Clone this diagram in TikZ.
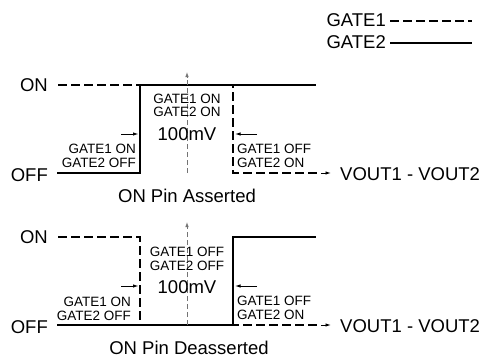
\documentclass[tikz,border=0pt]{standalone}
\usepackage{fontspec}
\setmainfont{Liberation Sans}
\usetikzlibrary{arrows.meta}
\begin{document}
\begin{tikzpicture}[x=1pt,y=-1pt,
  big/.style={font=\fontsize{18.5}{18.5}\selectfont,inner sep=0pt,text=black},
  small/.style={font=\fontsize{13.5}{13.5}\selectfont,inner sep=0pt,text=black},
  gsolid/.style={line width=1.8pt,black},
  gdash/.style={line width=1.8pt,black,dash pattern=on 8.5pt off 4.5pt},
  center/.style={line width=0.8pt,black!55,dash pattern=on 5pt off 3pt,-{Latex[length=5pt,width=3.5pt]}},
  tick/.style={line width=0.9pt,black,-{Latex[length=5.5pt,width=3.5pt]}},
]
\useasboundingbox (0,0) rectangle (483,360);
% legend
\node[big,anchor=east] (lg1) at (386,20) {GATE1};
\node[big,anchor=east] (lg2) at (386,42) {GATE2};
\coordinate (lg1e) at (472,21);
\coordinate (lg2e) at (472,43);
\draw[gdash] (lg1.east |- lg1e) ++(4,0) coordinate (lg1s) -- (lg1e);
\draw[gsolid] (lg2.east |- lg2e) ++(4,0) coordinate (lg2s) -- (lg2e);

% ===== top panel =====
\node[big,anchor=east] (on1) at (48,85) {ON};
\node[big,anchor=east] (off1) at (48,175) {OFF};
\coordinate (t-onL) at (58,85);
\coordinate (t-rise-top) at (140,85);
\coordinate (t-rise-bot) at (140,173);
\coordinate (t-fall-top) at (233,85);
\coordinate (t-fall-bot) at (233,173);
\coordinate (t-onR) at (316,85);
\coordinate (t-offL) at (57,173);
\coordinate (t-offE) at (317,173);
\coordinate (t-tipS) at (321,173);
\coordinate (t-offR) at (331,173);
\coordinate (t-cbot) at (187,173);
\coordinate (t-ctop) at (187,72);
\draw[gdash] (t-onL) -- (t-fall-top) -- (t-fall-bot) -- (t-offE);
\draw[tick] (t-tipS) -- (t-offR);
\draw[gsolid] (t-offL) -- (t-rise-bot) -- (t-rise-top) -- (t-onR);
\draw[center] (t-cbot) -- (t-ctop);
\coordinate (t-la) at (121,134);
\coordinate (t-lb) at (138.5,134);
\coordinate (t-ra) at (257,134);
\coordinate (t-rb) at (235,134);
\draw[tick] (t-la) -- (t-lb);
\draw[tick] (t-ra) -- (t-rb);
\node[small,align=center] (t-mid) at (187,105.5) {GATE1 ON\\GATE2 ON};
\node[big] (t-mv) at (187,134) {100mV};
\node[small,align=right,anchor=east] (t-left) at (136,156) {GATE1 ON\\GATE2 OFF};
\node[small,align=left,anchor=west] (t-right) at (237,156) {GATE1 OFF\\GATE2 ON};
\node[big,anchor=west] (t-vout) at (340,174) {VOUT1 - VOUT2};
\node[big] (t-cap) at (187,196) {ON Pin Asserted};

% ===== bottom panel =====
\node[big,anchor=east] (on2) at (48,237) {ON};
\node[big,anchor=east] (off2) at (48,327) {OFF};
\coordinate (b-onL) at (58,237);
\coordinate (b-fall-top) at (140,237);
\coordinate (b-fall-bot) at (140,325);
\coordinate (b-rise-top) at (233,237);
\coordinate (b-rise-bot) at (233,325);
\coordinate (b-onR) at (316,237);
\coordinate (b-offL) at (57,325);
\coordinate (b-offE) at (317,325);
\coordinate (b-tipS) at (321,325);
\coordinate (b-offR) at (331,325);
\coordinate (b-cbot) at (187,325);
\coordinate (b-ctop) at (187,222);
\draw[gdash] (b-onL) -- (b-fall-top) -- (b-fall-bot) -- (b-offE);
\draw[tick] (b-tipS) -- (b-offR);
\draw[gsolid] (b-offL) -- (b-rise-bot) -- (b-rise-top) -- (b-onR);
\draw[center] (b-cbot) -- (b-ctop);
\coordinate (b-la) at (121,286);
\coordinate (b-lb) at (138.5,286);
\coordinate (b-ra) at (257,286);
\coordinate (b-rb) at (235,286);
\draw[tick] (b-la) -- (b-lb);
\draw[tick] (b-ra) -- (b-rb);
\node[small,align=center] (b-mid) at (187,259) {GATE1 OFF\\GATE2 OFF};
\node[big] (b-mv) at (187,287) {100mV};
\node[small,align=right,anchor=east] (b-left) at (131,309) {GATE1 ON\\GATE2 OFF};
\node[small,align=left,anchor=west] (b-right) at (237,308) {GATE1 OFF\\GATE2 ON};
\node[big,anchor=west] (b-vout) at (340,326) {VOUT1 - VOUT2};
\node[big] (b-cap) at (189,348) {ON Pin Deasserted};
\end{tikzpicture}
\end{document}
